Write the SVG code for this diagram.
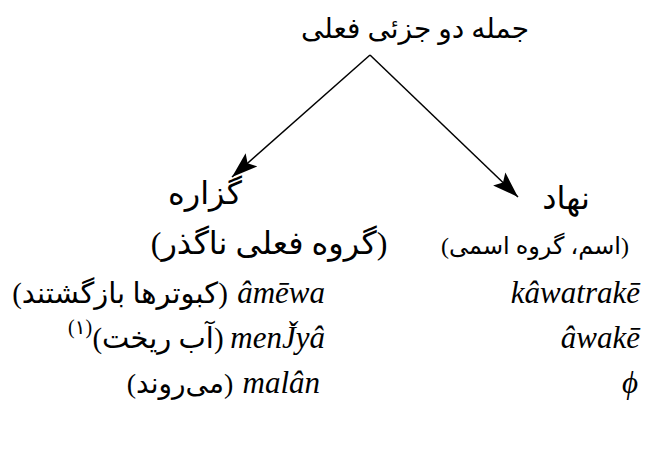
<svg xmlns="http://www.w3.org/2000/svg" width="646" height="461" viewBox="0 0 646 461">
<defs>
<style>
.fa{font-family:"Liberation Serif","DejaVu Sans",serif;font-size:30px;fill:#000;direction:rtl;}
.la{font-family:"Liberation Serif",serif;font-style:italic;font-size:31px;fill:#000;}
.ln{stroke:#000;stroke-width:1.5;fill:none;}
</style>
<marker id="ah" viewBox="0 0 10 10" refX="10" refY="5" markerWidth="26" markerHeight="26" markerUnits="userSpaceOnUse" orient="auto">
<path d="M0,1.6 L10,5 L0,8.4 L2,5 Z" fill="#000"/>
</marker>
</defs>
<rect width="646" height="461" fill="#fff"/>
<g id="root"><text class="fa" x="415" y="38" text-anchor="middle" style="font-size:28px">جمله دو جزئی فعلی</text></g>
<g id="connectors">
<line class="ln" x1="370" y1="55" x2="232" y2="177" marker-end="url(#ah)"/>
<line class="ln" x1="370" y1="55" x2="518" y2="197" marker-end="url(#ah)"/>
</g>
<g id="predicate">
<text class="fa" x="205" y="204" text-anchor="middle" style="font-size:32px">گزاره</text>
<text class="fa" x="269" y="254" text-anchor="middle" style="font-size:32px">(گروه فعلی ناگذر)</text>
</g>
<g id="subject">
<text class="fa" x="566" y="209" text-anchor="middle" style="font-size:32px">نهاد</text>
<text class="fa" x="535" y="254" text-anchor="middle" style="font-size:24px">(اسم، گروه اسمی)</text>
</g>
<g id="examples-left">
<text class="la" x="325" y="303" text-anchor="end">âmēwa</text>
<text class="fa" x="120" y="303" text-anchor="middle" style="font-size:29px">(کبوترها بازگشتند)</text>
<text class="la" x="325" y="348" text-anchor="end">menJ̌yâ</text>
<text class="fa" x="158" y="348" text-anchor="middle" style="font-size:29px">(آب ریخت)</text>
<text class="fa" x="80" y="334" text-anchor="middle" style="font-size:20px">(۱)</text>
<text class="la" x="320" y="393" text-anchor="end">malân</text>
<text class="fa" x="180" y="393" text-anchor="middle" style="font-size:28px">(می‌روند)</text>
</g>
<g id="examples-right">
<text class="la" x="640" y="303" text-anchor="end">kâwatrakē</text>
<text class="la" x="640" y="348" text-anchor="end">âwakē</text>
<text class="la" x="638" y="393" text-anchor="end">ϕ</text>
</g>
</svg>
